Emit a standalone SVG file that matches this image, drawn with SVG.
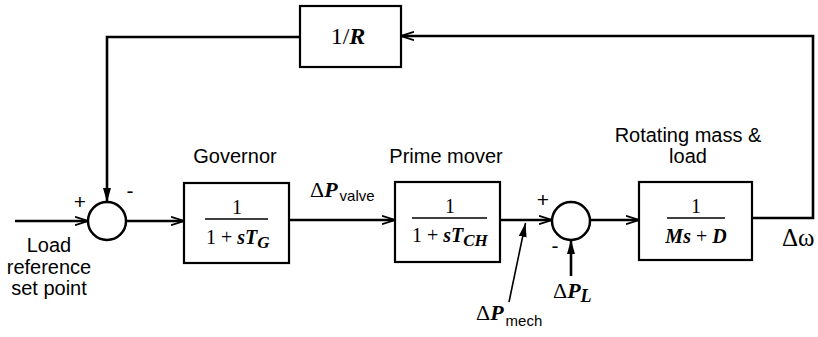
<svg xmlns="http://www.w3.org/2000/svg" width="818" height="337" viewBox="0 0 818 337">
<style>
.box{fill:#fff;stroke:#000;stroke-width:2.2}
.sum{fill:#fff;stroke:#000;stroke-width:2.5}
.ln{fill:none;stroke:#000;stroke-width:2.6}
.fr{stroke:#000;stroke-width:1.6}
.lbl{font-family:"Liberation Sans",Arial,sans-serif;font-size:20px;fill:#000}
.sgn{font-family:"Liberation Sans",Arial,sans-serif;font-size:21px;fill:#000}
.m{font-family:"Liberation Serif","Times New Roman",serif;font-size:20px;fill:#000}
.i{font-style:italic;font-weight:bold}
.sub{font-family:"Liberation Sans",Arial,sans-serif;font-size:15px}
</style>
<defs>
<marker id="ar" viewBox="0 0 13 10" refX="13" refY="5" markerWidth="13" markerHeight="10" markerUnits="userSpaceOnUse" orient="auto">
<path d="M0,0.8 L13,5 L0,9.2" fill="none" stroke="#000" stroke-width="1.8"/>
</marker>
<marker id="af" viewBox="0 0 14 10" refX="14" refY="5" markerWidth="14" markerHeight="10" markerUnits="userSpaceOnUse" orient="auto">
<path d="M0,1 L14,5 L0,9 Z" fill="#000"/>
</marker>
</defs>

<g id="connectors">
<path class="ln" d="M15,221 H88" marker-end="url(#ar)"/>
<path class="ln" d="M126,221 H184" marker-end="url(#ar)"/>
<path class="ln" d="M289,220 H395" marker-end="url(#ar)"/>
<path class="ln" d="M500,220 H552" marker-end="url(#ar)"/>
<path class="ln" d="M590,220 H639" marker-end="url(#ar)"/>
<path class="ln" d="M752,218 H813 V36 H401" marker-end="url(#ar)"/>
<path class="ln" d="M300,37 H107 V202" marker-end="url(#af)"/>
<path class="ln" d="M571,276 V240" marker-end="url(#af)"/>
<path d="M509,302 L525.5,223" fill="none" stroke="#000" stroke-width="1.6" marker-end="url(#af)"/>
</g>

<g id="feedback">
<rect class="box" x="300" y="6" width="101" height="61"/>
<text class="m" x="348" y="44" text-anchor="middle" style="font-size:24px">1/<tspan class="i">R</tspan></text>
</g>

<g id="sum1">
<circle class="sum" cx="107" cy="221" r="19"/>
<text class="sgn" x="80" y="209" text-anchor="middle">+</text>
<text class="sgn" x="130" y="198" text-anchor="middle">-</text>
</g>

<g id="input">
<text class="lbl" x="49" y="252" text-anchor="middle">Load</text>
<text class="lbl" x="49" y="274" text-anchor="middle">reference</text>
<text class="lbl" x="49" y="295" text-anchor="middle">set point</text>
</g>

<g id="governor">
<text class="lbl" x="235" y="163" text-anchor="middle">Governor</text>
<rect class="box" x="184" y="183" width="105" height="80"/>
<text class="m" x="237" y="214" text-anchor="middle">1</text>
<line class="fr" x1="205" y1="219" x2="268" y2="219"/>
<text class="m" x="206" y="244">1 + <tspan class="i">sT</tspan><tspan class="i" font-size="17" dy="4">G</tspan></text>
</g>

<g id="pvalve">
<text class="m" x="310" y="197" style="font-size:22px">Δ<tspan class="i">P</tspan><tspan class="sub" dx="2" dy="4">valve</tspan></text>
</g>

<g id="primemover">
<text class="lbl" x="446" y="163" text-anchor="middle">Prime mover</text>
<rect class="box" x="395" y="182" width="105" height="80"/>
<text class="m" x="450" y="213" text-anchor="middle">1</text>
<line class="fr" x1="412" y1="218" x2="487" y2="218"/>
<text class="m" x="412" y="242">1 + <tspan class="i">sT</tspan><tspan class="i" font-size="17" dy="4">CH</tspan></text>
</g>

<g id="sum2">
<circle class="sum" cx="571" cy="221" r="19"/>
<text class="sgn" x="543" y="207" text-anchor="middle">+</text>
<text class="sgn" x="555" y="253" text-anchor="middle">-</text>
</g>

<g id="pl">
<text class="m" x="553" y="298" style="font-size:22px">Δ<tspan class="i">P</tspan><tspan class="i" font-size="18" dy="4">L</tspan></text>
</g>

<g id="pmech">
<text class="m" x="476" y="320" style="font-size:22px">Δ<tspan class="i">P</tspan><tspan class="sub" dx="2" dy="6">mech</tspan></text>
</g>

<g id="rotating">
<text class="lbl" x="688" y="142" text-anchor="middle">Rotating mass &amp;</text>
<text class="lbl" x="688" y="163" text-anchor="middle">load</text>
<rect class="box" x="639" y="182" width="113" height="78"/>
<text class="m" x="696" y="213" text-anchor="middle">1</text>
<line class="fr" x1="667" y1="218" x2="725" y2="218"/>
<text class="m" x="696" y="243" text-anchor="middle"><tspan class="i">Ms</tspan> + <tspan class="i">D</tspan></text>
</g>

<g id="omega">
<text class="m" x="782" y="246" style="font-size:25px">Δω</text>
</g>
</svg>
